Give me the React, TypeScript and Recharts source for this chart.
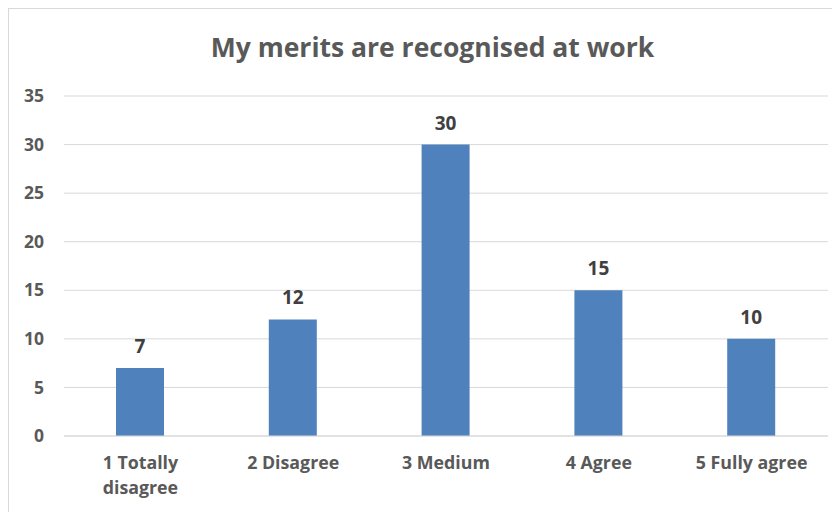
import React from "react";
import { BarChart, Bar, XAxis, YAxis, CartesianGrid, LabelList } from "recharts";

const title = "My merits are recognised at work";
const categories = ["1 Totally disagree", "2 Disagree", "3 Medium", "4 Agree", "5 Fully agree"];
const counts = [7, 12, 30, 15, 10];
const yTicks = [0, 5, 10, 15, 20, 25, 30, 35];

const data = categories.map((c, i) => ({ category: c, value: counts[i] }));

const FONT = "'Open Sans', 'Noto Sans', sans-serif";
const AXIS_COLOR = "#595959";
const LABEL_COLOR = "#404040";

const wrapLabel = (label: string, maxChars: number): string[] => {
  const words = label.split(" ");
  const lines: string[] = [];
  let cur = "";
  for (const w of words) {
    const next = cur ? cur + " " + w : w;
    if (next.length > maxChars && cur) {
      lines.push(cur);
      cur = w;
    } else {
      cur = next;
    }
  }
  if (cur) lines.push(cur);
  return lines;
};

const XTick = (props: any) => {
  const { x, y, payload } = props;
  const lines = wrapLabel(String(payload.value), 14);
  return (
    <text
      x={x}
      y={y}
      textAnchor="middle"
      fill={AXIS_COLOR}
      fontFamily={FONT}
      fontWeight={700}
      fontSize={17.8}
    >
      {lines.map((l, i) => (
        <tspan key={i} x={x} y={y + 33 + i * 25}>
          {l}
        </tspan>
      ))}
    </text>
  );
};

export default function App() {
  return (
    <div
      style={{
        position: "relative",
        width: 832,
        height: 504,
        borderTop: "1px solid #D9D9D9",
        borderLeft: "1px solid #D9D9D9",
        boxSizing: "content-box",
        fontFamily: FONT,
      }}
    >
      <div
        style={{
          position: "absolute",
          left: 0,
          top: 22,
          width: 832,
          paddingLeft: 15,
          boxSizing: "border-box",
          textAlign: "center",
          fontSize: 26.5,
          fontWeight: 700,
          color: AXIS_COLOR,
          lineHeight: "32px",
        }}
      >
        {title}
      </div>
      <BarChart
        width={832}
        height={504}
        data={data}
        margin={{ top: 87, right: 13, bottom: 0, left: 0 }}
      >
        <CartesianGrid vertical={false} stroke="#D9D9D9" strokeWidth={1} />
        <XAxis
          dataKey="category"
          height={77}
          axisLine={{ stroke: "#D9D9D9" }}
          tickLine={false}
          tickSize={0}
          tickMargin={0}
          interval={0}
          tick={<XTick />}
        />
        <YAxis
          width={55}
          domain={[0, 35]}
          ticks={yTicks}
          axisLine={false}
          tickLine={false}
          tickSize={0}
          tickMargin={20}
          tick={{ fill: AXIS_COLOR, fontFamily: FONT, fontWeight: 700, fontSize: 17.5 }}
        />
        <Bar dataKey="value" fill="#4F81BD" barSize={48} isAnimationActive={false}>
          <LabelList
            dataKey="value"
            position="top"
            offset={15}
            fill={LABEL_COLOR}
            fontFamily={FONT}
            fontWeight={700}
            fontSize={19}
          />
        </Bar>
      </BarChart>
    </div>
  );
}
